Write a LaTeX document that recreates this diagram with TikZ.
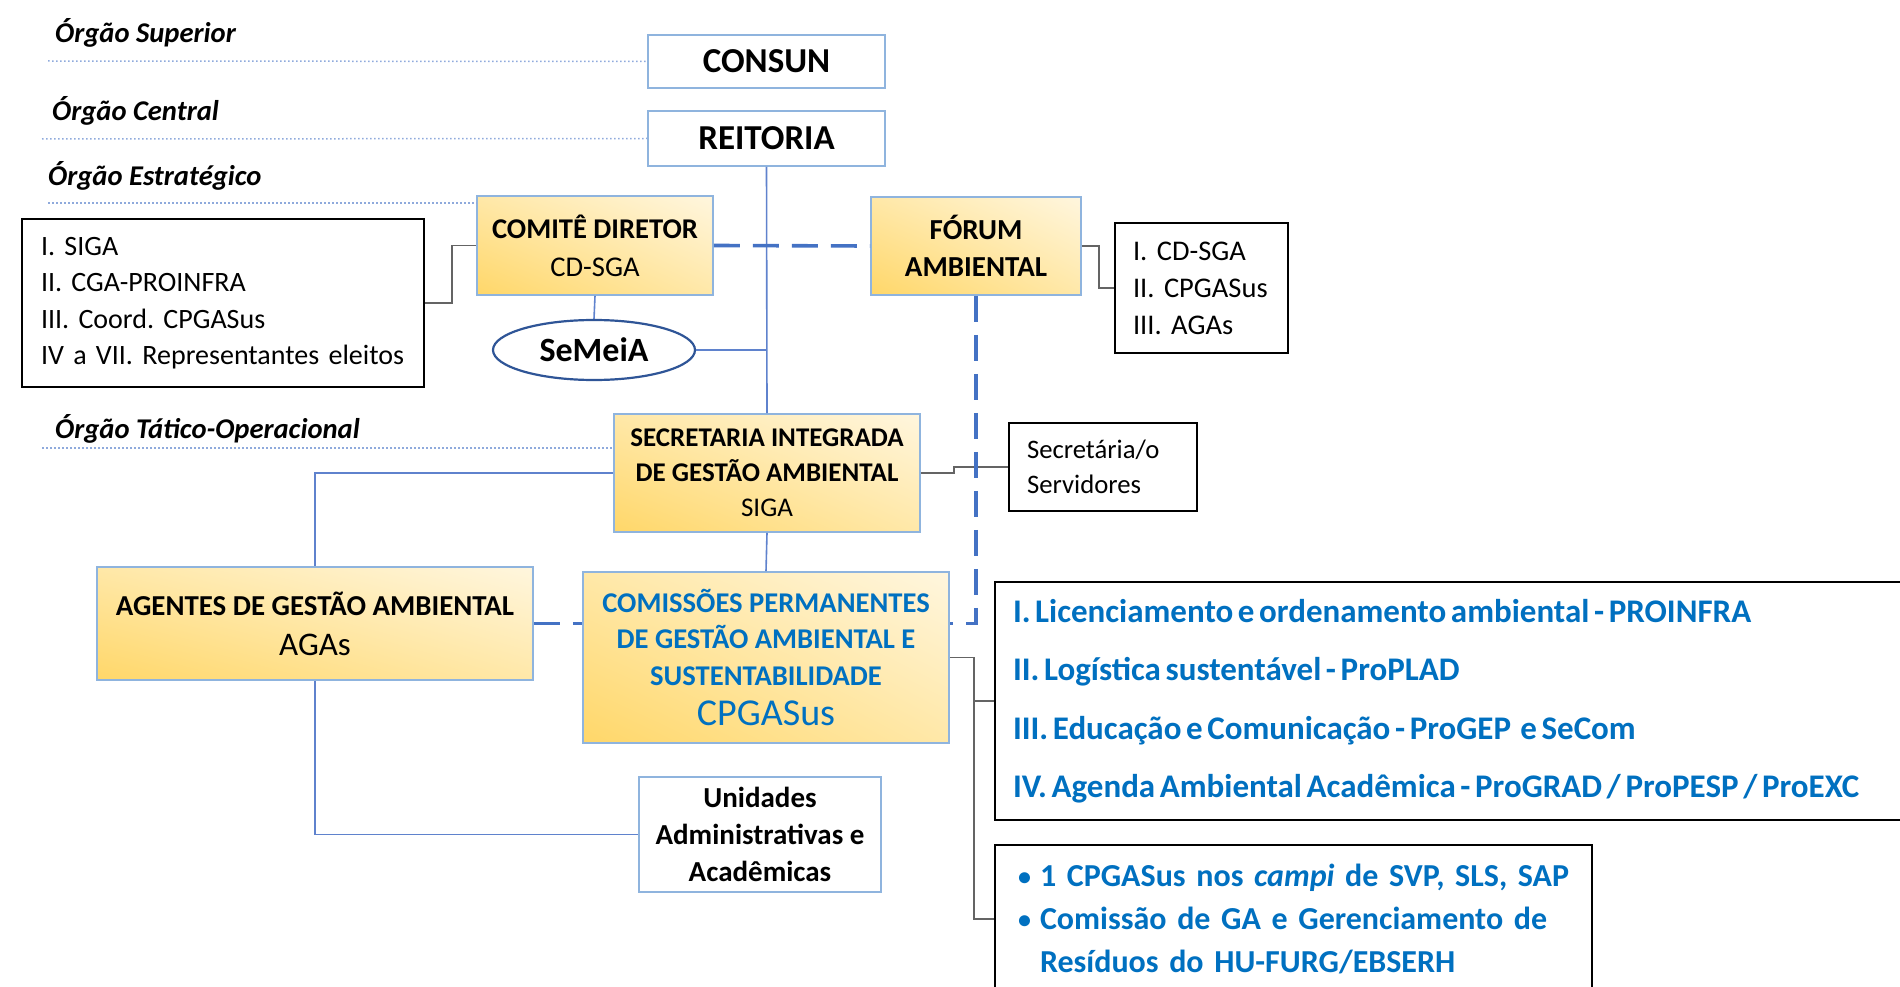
\documentclass[tikz,border=0pt]{standalone}
\usepackage{fontspec}
\setmainfont{Carlito}
\usetikzlibrary{shapes.geometric,shadings}
\definecolor{bxblue}{RGB}{143,180,222}
\definecolor{lnblue}{RGB}{95,130,205}
\definecolor{dsblue}{RGB}{68,114,196}
\definecolor{dtblue}{RGB}{143,170,220}
\definecolor{elblue}{RGB}{47,85,151}
\definecolor{txblue}{RGB}{0,112,192}
\definecolor{lngray}{RGB}{100,100,100}
\definecolor{ylight}{RGB}{255,246,222}
\definecolor{ymid}{RGB}{255,232,168}
\definecolor{ydark}{RGB}{255,215,105}
\newcommand\fsz[2]{\fontsize{#1}{#2}\selectfont}
\newcommand\blt{\makebox[22pt][l]{\raisebox{1pt}{\fsz{26}{26}•}}}
\begin{document}
\frenchspacing
\begin{tikzpicture}[x=1pt,y=-1pt,
  ybox/.style={draw=bxblue, line width=1.6pt, inner sep=0pt, align=center,
    shading=bilinear interpolation, lower left=ydark, upper right=ylight, upper left=ymid, lower right=ymid},
  wbox/.style={draw=bxblue, line width=1.6pt, fill=white, inner sep=0pt, align=center},
  kbox/.style={draw=black, line width=2pt, fill=white, inner ysep=0pt, align=left},
  conn/.style={draw=lnblue, line width=1.6pt},
  dconn/.style={draw=dsblue, line width=3.6pt, dash pattern=on 26pt off 13pt},
  gconn/.style={draw=lngray, line width=1.6pt},
  sepline/.style={draw=dtblue, line width=1.5pt, dash pattern=on 1.5pt off 2.5pt},
  lvltext/.style={anchor=west, inner sep=0pt, font=\fsz{28.6}{32}\bfseries\itshape},
]
\useasboundingbox (0,0) rectangle (1900,987);
\clip (0,0) rectangle (1900,987);

% level labels
\node[lvltext] (lsup) at (55,33) {Órgão Superior};
\node[lvltext] (lcen) at (52,111) {Órgão Central};
\node[lvltext] (lest) at (48,176) {Órgão Estratégico};
\node[lvltext] (ltat) at (55,429) {Órgão Tático-Operacional};

% boxes
\node[wbox, minimum width=237pt, minimum height=53pt, font=\fsz{35}{40}\bfseries] (consun) at (766.5,61.5) {CONSUN};
\node[wbox, minimum width=237pt, minimum height=55pt, font=\fsz{35}{40}\bfseries] (reitoria) at (766.5,138.5) {REITORIA};
\node[ybox, minimum width=236pt, minimum height=99pt, font=\fsz{28.6}{38}] (comite) at (595,245.5) {\textbf{COMITÊ DIRETOR}\\CD-SGA};
\node[ybox, minimum width=210pt, minimum height=98pt, font=\fsz{29}{37}\bfseries] (forum) at (976,246) {FÓRUM\\AMBIENTAL};
\node[kbox, minimum height=168pt, text width=364pt, inner xsep=19pt, font=\fsz{28}{36.5}] (cdlist) at (223,303) {I. SIGA\\II. CGA-PROINFRA\\III. Coord. CPGASus\\IV a VII. Representantes eleitos};
\node[ellipse, draw=elblue, line width=2.2pt, fill=white, minimum width=202pt, minimum height=60pt, inner sep=0pt, font=\fsz{34}{36}\bfseries] (semeia) at (594,350) {SeMeiA};
\node[kbox, minimum height=130pt, text width=137pt, inner xsep=18pt, font=\fsz{28.5}{37}] (fmlist) at (1201.5,288) {I. CD-SGA\\II. CPGASus\\III. AGAs};
\node[ybox, minimum width=306pt, minimum height=118pt, font=\fsz{27}{35}] (siga) at (767,473) {\textbf{SECRETARIA INTEGRADA}\\\textbf{DE GESTÃO AMBIENTAL}\\SIGA};
\node[kbox, minimum height=88pt, text width=152pt, inner xsep=18pt, font=\fsz{26.7}{35}] (secr) at (1103,467) {Secretária/o\\Servidores};
\node[ybox, minimum width=436pt, minimum height=113pt, font=\fsz{28.9}{40}] (agas) at (315,623.5) {\textbf{AGENTES DE GESTÃO AMBIENTAL}\\{\fsz{33}{40}AGAs}};
\node[ybox, minimum width=366pt, minimum height=171pt, text=txblue, font=\fsz{28.6}{36.5}] (cpg) at (766,657.5) {\textbf{COMISSÕES PERMANENTES}\\\textbf{DE GESTÃO AMBIENTAL E}\\\textbf{SUSTENTABILIDADE}\\[4pt]{\fsz{38}{40}CPGASus}};
\node[wbox, minimum width=242pt, minimum height=115pt, font=\fsz{29}{37}\bfseries] (unid) at (760,834.5) {Unidades\\Administrativas e\\Acadêmicas};
\node[kbox, minimum height=238pt, text width=1264pt, inner xsep=18pt, text=txblue, font=\fsz{33}{58.5}\bfseries] (cmlist) at (1645,701) {\spaceskip=0.14em\relax I. Licenciamento e ordenamento ambiental - PROINFRA\\II. Logística sustentável - ProPLAD\\III. Educação e Comunicação - ProGEP\ \ e SeCom\\IV. Agenda Ambiental Acadêmica - ProGRAD / ProPESP / ProEXC};
\node[kbox, minimum height=148pt, text width=551pt, inner xsep=23pt, text=txblue, font=\fsz{32}{43}\bfseries] (cplist) at (1293.5,919) {\mbox{\blt 1 CPGASus nos \textit{campi} de SVP, SLS, SAP}\\\mbox{\blt Comissão de GA e Gerenciamento de}\\\mbox{\hspace*{22pt}Resíduos do HU-FURG/EBSERH}};

% level separators
\draw[sepline] (48,61) -- (consun.west);
\draw[sepline] (42,139) -- (reitoria.west);
\draw[sepline] (48,203) -- (comite.west |- 0,203);
\draw[sepline] (42,448) -- (siga.west |- 0,448);

% gray connectors
\draw[gconn] (cdlist.east) -- ++(27,0) |- (comite.west);
\draw[gconn] (forum.east) -- ++(17,0) |- (fmlist.west);
\draw[gconn] (siga.east) -- ++(33,0) |- (secr.west);
\draw[gconn] (cpg.east) -- ++(24,0) coordinate (cj) |- (cplist.west);
\draw[gconn] (cj |- cmlist.west) -- (cmlist.west);

% blue solid connectors
\draw[conn] (reitoria.south) -- (siga.north);
\draw[conn] (semeia.east) -- (semeia.east -| reitoria.south);
\draw[conn] (comite.south) -- (semeia.north);
\draw[conn] (siga.south) -- (cpg.north);
\draw[conn] (siga.west) -| (agas.north);
\draw[conn] (agas.south) |- (unid.west);

% dashed connectors
\draw[dconn] (comite.east) -- (forum.west);
\draw[dconn] (forum.south) |- (cpg.east |- agas.east);
\draw[dconn] (agas.east) -- (agas.east -| cpg.west);
\end{tikzpicture}
\end{document}
